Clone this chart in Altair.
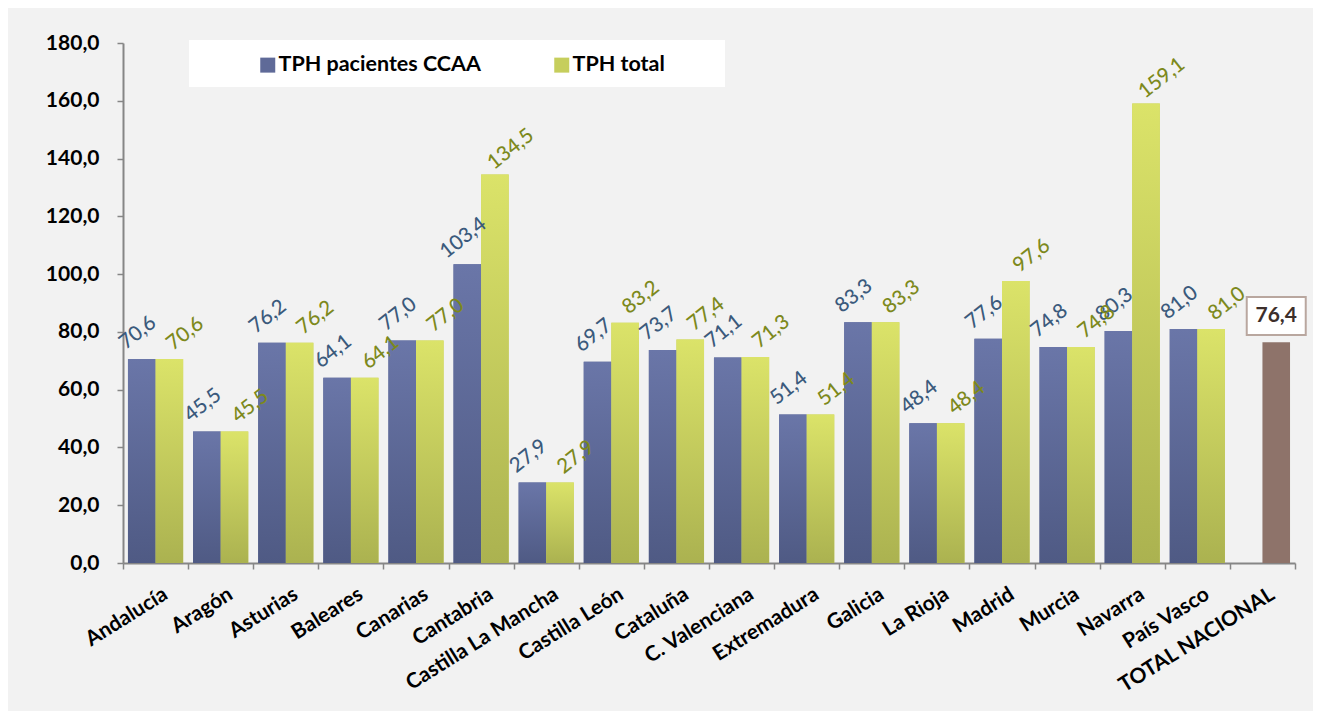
import altair as alt
import pandas as pd

regions = ["Andalucía", "Aragón", "Asturias", "Baleares", "Canarias", "Cantabria",
           "Castilla La Mancha", "Castilla León", "Cataluña", "C. Valenciana",
           "Extremadura", "Galicia", "La Rioja", "Madrid", "Murcia", "Navarra", "País Vasco"]
tph_ccaa = [70.6, 45.5, 76.2, 64.1, 77.0, 103.4, 27.9, 69.7, 73.7, 71.1,
            51.4, 83.3, 48.4, 77.6, 74.8, 80.3, 81.0]
tph_total = [70.6, 45.5, 76.2, 64.1, 77.0, 134.5, 27.9, 83.2, 77.4, 71.3,
             51.4, 83.3, 48.4, 97.6, 74.8, 159.1, 81.0]
nacional_name = "TOTAL NACIONAL"
nacional_value = 76.4
series = ["TPH pacientes CCAA", "TPH total"]
y_ticks = [0, 20, 40, 60, 80, 100, 120, 140, 160, 180]

categories = regions + [nacional_name]

rows = []
for r, v in zip(regions, tph_ccaa):
    rows.append({"region": r, "series": series[0], "value": v})
for r, v in zip(regions, tph_total):
    rows.append({"region": r, "series": series[1], "value": v})
df = pd.DataFrame(rows)
df_nat = pd.DataFrame([{"region": nacional_name, "series": series[1], "value": nacional_value}])

FONT = "Lato"
label_expr = "replace(format(datum.value, '.1f'), '.', ',')"

x_axis = alt.Axis(title=None, tickBand="extent", labelAngle=-32, labelAlign="right",
                  labelBaseline="top", labelPadding=14, labelOffset=4,
                  labelFont=FONT, labelFontSize=21, labelFontWeight="bold",
                  labelColor="#000000", tickSize=6, tickColor="#868686",
                  domainColor="#868686", domainWidth=2, tickWidth=1.5,
                  labelOverlap=False, labelLimit=300)
y_axis = alt.Axis(title=None, values=y_ticks, labelExpr=label_expr, grid=False,
                  labelFont=FONT, labelFontSize=21, labelFontWeight="bold",
                  labelColor="#000000", tickSize=6, tickColor="#868686",
                  domainColor="#868686", domainWidth=2, tickWidth=1.5,
                  labelPadding=18)
x_scale = alt.Scale(domain=categories, paddingInner=0, paddingOuter=0)
y_scale = alt.Scale(domain=[0, 180], nice=False)

x_enc = alt.X("region:N", sort=categories, scale=x_scale, axis=x_axis)
xo_enc = alt.XOffset("series:N", scale=alt.Scale(domain=series, paddingOuter=0.18, paddingInner=0))
y_enc = alt.Y("value:Q", scale=y_scale, axis=y_axis)

grad_blue = {"gradient": "linear", "x1": 0, "y1": 0, "x2": 0, "y2": 1,
             "stops": [{"offset": 0, "color": "#6a76a8"}, {"offset": 1, "color": "#4f5a84"}]}
grad_yellow = {"gradient": "linear", "x1": 0, "y1": 0, "x2": 0, "y2": 1,
               "stops": [{"offset": 0, "color": "#dbe369"}, {"offset": 1, "color": "#abb250"}]}

# legend backdrop
legend_box = alt.Chart(pd.DataFrame({"a": [0]})).mark_rect(color="white").encode(
    x=alt.value(66), x2=alt.value(602), y=alt.value(-3), y2=alt.value(44))

base = alt.Chart(df)

legend_bars = base.mark_bar().encode(
    x=x_enc, xOffset=xo_enc, y=y_enc,
    color=alt.Color("series:N", scale=alt.Scale(domain=series, range=["#5f6a98", "#c6ce5c"]),
                    legend=alt.Legend(orient="none", legendX=134, legendY=11, direction="horizontal",
                                      title=None, symbolType="square", symbolSize=225,
                                      symbolStrokeWidth=0, labelFont=FONT, labelFontSize=21.5,
                                      labelFontWeight="bold", labelColor="#000000",
                                      labelLimit=400,
                                      columnPadding=70, labelOffset=0, padding=0)))

blue_bars = base.transform_filter(alt.datum.series == series[0]).mark_bar(color=grad_blue).encode(
    x=x_enc, xOffset=xo_enc, y=y_enc)
yellow_bars = base.transform_filter(alt.datum.series == series[1]).mark_bar(color=grad_yellow).encode(
    x=x_enc, xOffset=xo_enc, y=y_enc)

# rotated value labels: offsets are in the rotated text frame
blue_text = base.transform_filter(alt.datum.series == series[0]).transform_calculate(
    lab=label_expr).mark_text(angle=322, align="center", baseline="middle", dx=13, dy=-23,
                              font=FONT, fontSize=20.5, fontWeight=500, color="#3b5a7c").encode(
    x=x_enc, xOffset=xo_enc, y=y_enc, text="lab:N")
yellow_text = base.transform_filter(alt.datum.series == series[1]).transform_calculate(
    lab=label_expr).mark_text(angle=322, align="center", baseline="middle", dx=28, dy=-10,
                              font=FONT, fontSize=20.5, fontWeight=500, color="#7d891c").encode(
    x=x_enc, xOffset=xo_enc, y=y_enc, text="lab:N")

nat = alt.Chart(df_nat)
nat_bar = nat.mark_bar(color="#8e736a").encode(x=x_enc, xOffset=xo_enc, y=y_enc)
nat_box = nat.transform_calculate(lo="datum.value + 2.5", hi="datum.value + 15.7").mark_bar(
    width=59, color="white", stroke="#b9a79f", strokeWidth=2).encode(
    x=x_enc, xOffset=xo_enc,
    y=alt.Y("lo:Q", scale=y_scale, axis=y_axis), y2="hi:Q")
nat_text = nat.transform_calculate(lab=label_expr).mark_text(
    align="center", baseline="middle", dy=-26, font=FONT, fontSize=21, fontWeight="bold",
    color="#3d2f2b").encode(x=x_enc, xOffset=xo_enc, y=y_enc, text="lab:N")

chart = alt.layer(legend_box, legend_bars, blue_bars, yellow_bars, nat_bar,
                  blue_text, yellow_text, nat_box, nat_text).properties(
    width=1172, height=520,
    autosize=alt.AutoSizeParams(type="none"),
    padding={"left": 115, "top": 35, "right": 18, "bottom": 148},
    background="#f2f2f2",
).configure_view(stroke=None)

chart.save("out.html", embed_options={"renderer": "svg", "actions": False})
